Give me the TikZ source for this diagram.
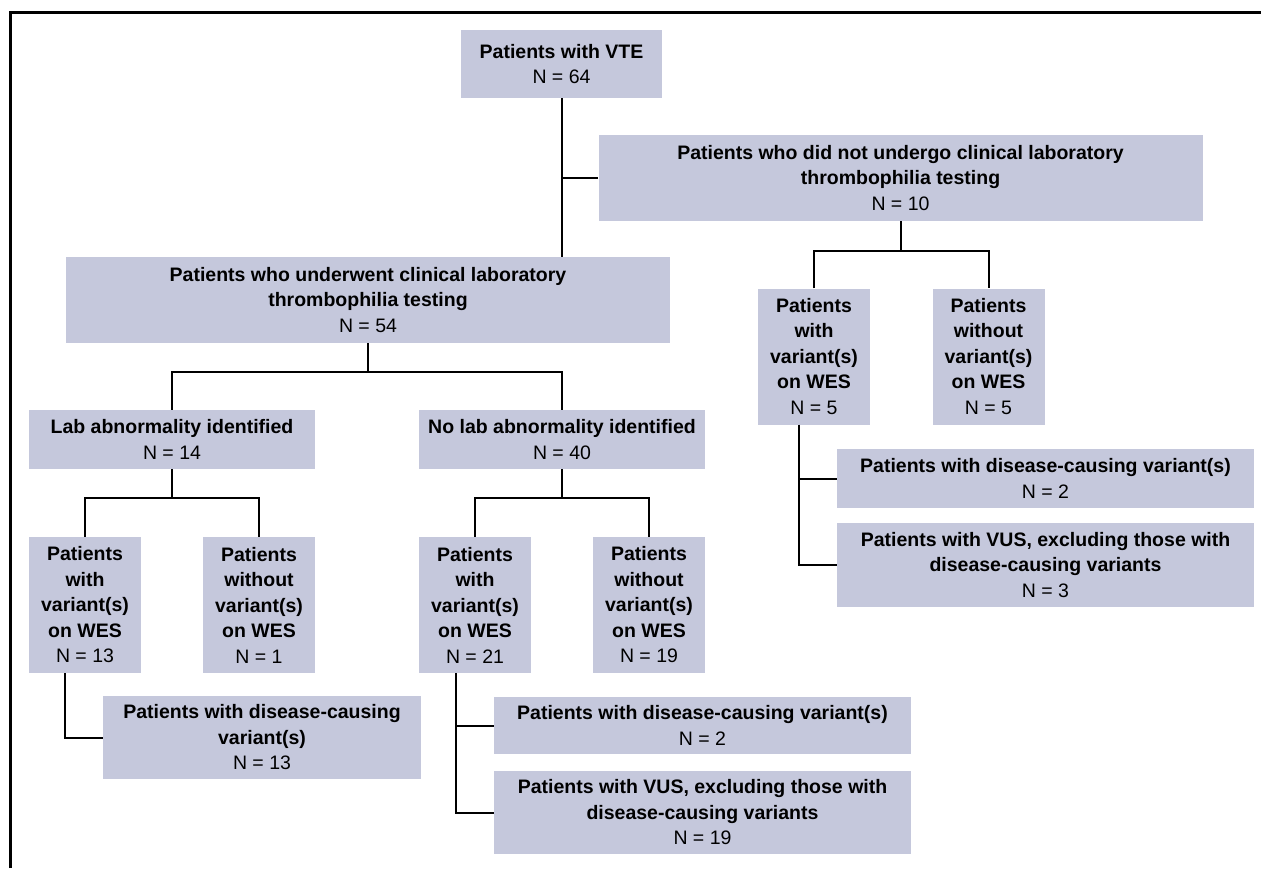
\documentclass[tikz,border=0pt]{standalone}
\usepackage{fontspec}
\setmainfont{Liberation Sans}
\usetikzlibrary{positioning, calc}
\definecolor{boxfill}{RGB}{197,200,220}
\newcommand{\Ncount}[1]{{\mdseries N = #1}}

\begin{document}
\begin{tikzpicture}[x=1pt, y=-1pt,
		every node/.style={font=\bfseries\fontsize{19.5}{25.5}\selectfont},
		box/.style={fill=boxfill, align=center, inner sep=2pt},
		wide/.style={box, minimum width=604pt, minimum height=86pt},
		mid/.style={box, minimum width=286pt, minimum height=59pt},
		narrow/.style={box, minimum width=112pt, minimum height=136pt},
		long/.style={box, minimum width=417pt},
		link/.style={line width=2pt}]
		
		\useasboundingbox (0,0) rectangle (1261,868);
		\draw[line width=3pt] (10,868) -- (10,12) -- (1261,12);
		
		%//top of the tree
		\node[box, minimum width=201pt, minimum height=68pt] (vte) at (561.5,64) {Patients with VTE\\\Ncount{64}};
		\node[wide] (nottested) at (900.5,178) {Patients who did not undergo clinical laboratory\\thrombophilia testing\\\Ncount{10}};
		\node[wide] (tested) at (368,300) {Patients who underwent clinical laboratory\\thrombophilia testing\\\Ncount{54}};
		
		\node[mid] (lababn) at (172,439.5) {Lab abnormality identified\\\Ncount{14}};
		\node[mid] (nolab) at (562,439.5) {No lab abnormality identified\\\Ncount{40}};
		
		\foreach \nm/\xc/\yc/\wo/\n in {labwith/85/605/with/13, labwithout/259/605/without/1,
			nolabwith/475/605/with/21, nolabwithout/649/605/without/19,
			ntwith/814/356.5/with/5, ntwithout/988.5/356.5/without/5}
		\node[narrow] (\nm) at (\xc,\yc) {Patients\\\wo\\variant(s)\\on WES\\\Ncount{\n}};
		
		%//leaves
		\node[box, minimum width=318pt, minimum height=83pt] (labdc) at (262,737.5) {Patients with disease-causing\\variant(s)\\\Ncount{13}};
		\node[long, minimum height=57pt] (nolabdc) at (702.5,725.5) {Patients with disease-causing variant(s)\\\Ncount{2}};
		\node[long, minimum height=83pt] (nolabvus) at (702.5,812.5) {Patients with VUS, excluding those with\\disease-causing variants\\\Ncount{19}};
		\node[long, minimum height=59pt] (ntdc) at (1045.5,478.5) {Patients with disease-causing variant(s)\\\Ncount{2}};
		\node[long, minimum height=84pt] (ntvus) at (1045.5,565) {Patients with VUS, excluding those with\\disease-causing variants\\\Ncount{3}};
		
		%//connectors
		\draw[link] (vte.south) -- (vte.south |- tested.north);
		\draw[link] (vte.south |- nottested.west) -- (nottested.west);
		
		\draw[link] (tested.south) -- ++(0,29) coordinate (tsplit);
		\draw[link] (lababn.north) |- (tsplit) -| (nolab.north);
		
		\draw[link] (lababn.south) -- ++(0,29) coordinate (lsplit);
		\draw[link] (labwith.north) |- (lsplit) -| (labwithout.north);
		\draw[link] (nolab.south) -- ++(0,29) coordinate (nlsplit);
		\draw[link] (nolabwith.north) |- (nlsplit) -| (nolabwithout.north);
		\draw[link] (nottested.south) -- ++(0,30) coordinate (ntsplit);
		\draw[link] (ntwith.north) |- (ntsplit) -| (ntwithout.north);
		
		\draw[link] ([xshift=-20pt]labwith.south) |- (labdc.west);
		\draw[link] ([xshift=-19pt]nolabwith.south) |- (nolabvus.west);
		\draw[link] ([xshift=-19pt]nolabwith.south |- nolabdc.west) -- (nolabdc.west);
		\draw[link] ([xshift=-15pt]ntwith.south) |- (ntvus.west);
		\draw[link] ([xshift=-15pt]ntwith.south |- ntdc.west) -- (ntdc.west);
\end{tikzpicture}
\end{document}
